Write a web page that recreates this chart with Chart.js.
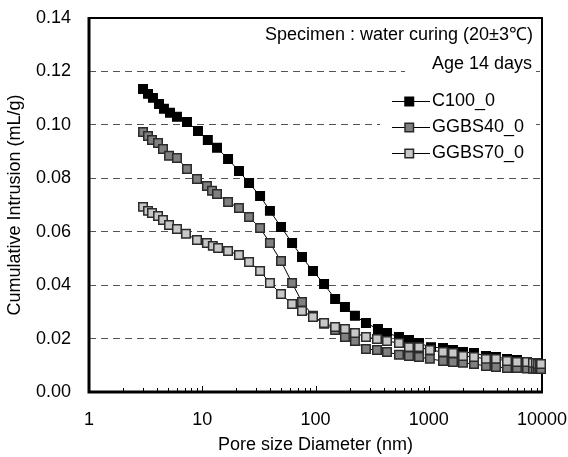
<!DOCTYPE html>
<html>
<head>
<meta charset="utf-8">
<script src="https://cdn.jsdelivr.net/npm/chart.js@4.4.1/dist/chart.umd.min.js"></script>
<style>
  html, body { margin: 0; padding: 0; background: #fff; }
  canvas { display: block; }
</style>
</head>
<body>
<canvas id="mipChart" width="568" height="457"></canvas>
<script>
// pore diameter (nm) / cumulative intrusion (mL/g)
const c100Diameter = [3.00, 3.32, 3.67, 4.15, 4.59, 5.19, 5.98, 7.33, 9.17, 11.2,
  13.5, 16.9, 21.1, 25.9, 32.4, 39.6, 49.6, 62.1, 76.0, 95.0,
  119, 149, 182, 223, 279, 356, 428, 546, 669, 820,
  1047, 1336, 1637, 2006, 2510, 3200, 3925, 4910, 6010, 7375,
  8320, 8850, 9230, 9600, 9800];
const c100Intrusion = [0.1134, 0.1116, 0.1101, 0.1078, 0.1060, 0.1045, 0.1030, 0.1011, 0.0977, 0.0943,
  0.0914, 0.0872, 0.0827, 0.0782, 0.0734, 0.0678, 0.0618, 0.0558, 0.0505, 0.0453,
  0.0404, 0.0348, 0.0318, 0.0285, 0.0258, 0.0236, 0.0221, 0.0206, 0.0195, 0.0183,
  0.0168, 0.0165, 0.0157, 0.0150, 0.0146, 0.0135, 0.0131, 0.0124, 0.0120, 0.0112,
  0.0105, 0.0101, 0.0101, 0.0097, 0.0097];

const ggbs40Diameter = [3.00, 3.32, 3.60, 4.07, 4.50, 5.09, 5.98, 7.33, 8.99, 11.0,
  12.2, 13.5, 16.9, 21.1, 25.9, 32.4, 39.6, 49.6, 62.1, 76.0,
  95.0, 119, 149, 182, 223, 279, 349, 428, 546, 669,
  820, 1023, 1336, 1637, 2006, 2510, 3200, 3925, 4910, 6010,
  7375, 8320, 8850, 9230, 9600, 9800];
const ggbs40Intrusion = [0.0973, 0.0958, 0.0943, 0.0932, 0.0910, 0.0884, 0.0876, 0.0835, 0.0797, 0.0771,
  0.0753, 0.0741, 0.0711, 0.0689, 0.0655, 0.0614, 0.0558, 0.0490, 0.0408, 0.0337,
  0.0285, 0.0255, 0.0232, 0.0206, 0.0191, 0.0161, 0.0157, 0.0150, 0.0139, 0.0135,
  0.0131, 0.0124, 0.0116, 0.0112, 0.0109, 0.0105, 0.0097, 0.0094, 0.0090, 0.0090,
  0.0088, 0.0087, 0.0087, 0.0086, 0.0086, 0.0086];

const ggbs70Diameter = [3.00, 3.32, 3.60, 4.07, 4.50, 5.09, 5.98, 7.18, 8.99, 11.0,
  12.4, 13.8, 16.9, 21.1, 25.9, 32.4, 39.6, 49.6, 62.1, 76.0,
  95.0, 119, 149, 182, 223, 279, 349, 428, 546, 669,
  820, 1023, 1336, 1637, 2006, 2510, 3200, 3925, 4910, 6010,
  7375, 8320, 8850, 9230, 9600, 9800];
const ggbs70Intrusion = [0.0693, 0.0678, 0.0670, 0.0659, 0.0644, 0.0625, 0.0610, 0.0592, 0.0569, 0.0558,
  0.0547, 0.0539, 0.0528, 0.0513, 0.0487, 0.0453, 0.0408, 0.0367, 0.0329, 0.0303,
  0.0281, 0.0258, 0.0243, 0.0236, 0.0221, 0.0206, 0.0198, 0.0191, 0.0183, 0.0168,
  0.0168, 0.0157, 0.0150, 0.0146, 0.0135, 0.0131, 0.0124, 0.0124, 0.0116, 0.0112,
  0.0112, 0.0109, 0.0109, 0.0105, 0.0105, 0.0105];

const seriesNames = ["C100_0", "GGBS40_0", "GGBS70_0"];
const xTickValues = [1, 10, 100, 1000, 10000];
const yTickValues = [0, 0.02, 0.04, 0.06, 0.08, 0.10, 0.12, 0.14];
const noteLines = ["Specimen : water curing (20±3℃)", "Age 14 days"];

const FONT = '"Liberation Sans", Arial, sans-serif';
const FONT_SIZE = 18;
const markerFill = ["#000000", "#808080", "#c8c8c8"];
const markerEdge = ["#000000", "#2a2a2a", "#2a2a2a"];

function toPoints(xs, ys) {
    return xs.map((x, i) => ({ x: x, y: ys[i] }));
}

function makeSet(idx, xs, ys) {
    return {
        label: seriesNames[idx],
        data: toPoints(xs, ys),
        borderColor: "#000",
        borderWidth: 1,
        pointStyle: "rect",
        pointRadius: 6,
        pointBorderWidth: 1.5,
        pointBackgroundColor: markerFill[idx],
        pointBorderColor: markerEdge[idx],
        tension: 0,
        clip: false,
        order: 3 - idx   // lighter series drawn on top
    };
}

// frame, inward minor ticks on the log axis
const framePlugin = {
    id: "frame",
    beforeDatasetsDraw(chart) {
        const { ctx, chartArea: a, scales: { x } } = chart;
        ctx.save();
        ctx.strokeStyle = "#000";
        ctx.lineWidth = 1;
        xTickValues.slice(0, -1).forEach((d) => {
            for (let m = 2; m <= 10; m++) {
                const px = Math.round(x.getPixelForValue(m * d)) + 0.5;
                const len = m === 10 ? 6 : 4;
                ctx.beginPath();
                ctx.moveTo(px, a.bottom);
                ctx.lineTo(px, a.bottom - len);
                ctx.stroke();
            }
        });
        ctx.lineWidth = 2;
        ctx.beginPath();
        ctx.moveTo(a.left, a.top);
        ctx.lineTo(a.right, a.top);
        ctx.lineTo(a.right, a.bottom);
        ctx.stroke();
        ctx.lineWidth = 3;
        ctx.beginPath();
        ctx.moveTo(a.left, a.top - 1);
        ctx.lineTo(a.left, a.bottom);
        ctx.lineTo(a.right + 1, a.bottom);
        ctx.stroke();
        ctx.restore();
    }
};

// notes and legend inside the plot, on white boxes
const notesPlugin = {
    id: "notes",
    afterDraw(chart) {
        const { ctx, chartArea: a } = chart;
        ctx.save();
        ctx.font = FONT_SIZE + "px " + FONT;
        ctx.fillStyle = "#fff";
        ctx.fillRect(a.right - 137, a.top + 36, 131, 24);
        ctx.fillRect(a.right - 162, a.top + 68, 156, 80);

        ctx.fillStyle = "#000";
        ctx.textAlign = "right";
        ctx.textBaseline = "middle";
        ctx.fillText(noteLines[0], a.right - 9, a.top + 17);
        ctx.fillText(noteLines[1], a.right - 10, a.top + 46);

        ctx.textAlign = "left";
        seriesNames.forEach((name, i) => {
            const y = Math.round(a.top + 83 + i * 26) + 0.5;
            ctx.strokeStyle = "#000";
            ctx.lineWidth = 1;
            ctx.beginPath();
            ctx.moveTo(a.right - 150, y);
            ctx.lineTo(a.right - 112, y);
            ctx.stroke();
            ctx.fillStyle = markerFill[i];
            ctx.strokeStyle = markerEdge[i];
            ctx.lineWidth = 1.5;
            ctx.fillRect(a.right - 137, y - 4.25, 8.5, 8.5);
            ctx.strokeRect(a.right - 137, y - 4.25, 8.5, 8.5);
            ctx.fillStyle = "#000";
            ctx.fillText(name, a.right - 110, y);
        });
        ctx.restore();
    }
};

const ctx = document.getElementById("mipChart").getContext("2d");
new Chart(ctx, {
    type: "line",
    data: {
        datasets: [
            makeSet(0, c100Diameter, c100Intrusion),
            makeSet(1, ggbs40Diameter, ggbs40Intrusion),
            makeSet(2, ggbs70Diameter, ggbs70Intrusion)
        ]
    },
    options: {
        responsive: false,
        devicePixelRatio: 1,
        animation: false,
        layout: { padding: { left: 0, top: 18, right: 26, bottom: 0 } },
        plugins: {
            legend: { display: false },
            tooltip: { enabled: false }
        },
        scales: {
            x: {
                type: "logarithmic",
                min: 1,
                max: 10000,
                afterBuildTicks: (scale) => {
                    scale.ticks = xTickValues.map((v) => ({ value: v, major: true }));
                },
                afterFit: (scale) => {
                    scale.height = 65;
                    scale.paddingLeft = 0;
                    scale.paddingRight = 0;
                },
                grid: { display: false, drawTicks: false },
                border: { display: false },
                ticks: {
                    color: "#000",
                    font: { family: FONT, size: FONT_SIZE },
                    padding: 17,
                    maxRotation: 0,
                    autoSkip: false,
                    callback: (v) => String(v)
                },
                title: {
                    display: true,
                    text: "Pore size Diameter (nm)",
                    color: "#000",
                    font: { family: FONT, size: FONT_SIZE },
                    padding: { top: 4, bottom: 1 }
                }
            },
            y: {
                min: 0,
                max: 0.14,
                afterBuildTicks: (scale) => {
                    scale.ticks = yTickValues.map((v) => ({ value: v }));
                },
                afterFit: (scale) => {
                    scale.width = 89;
                    scale.paddingTop = 0;
                    scale.paddingBottom = 0;
                },
                grid: {
                    drawTicks: false,
                    lineWidth: 1,
                    color: (c) => (c.tick && c.tick.value > 0.001 && c.tick.value < 0.139) ? "#555" : "rgba(0,0,0,0)"
                },
                border: { display: false, dash: [7, 5] },
                ticks: {
                    color: "#000",
                    font: { family: FONT, size: FONT_SIZE },
                    padding: 18,
                    callback: (v) => Number(v).toFixed(2)
                },
                title: {
                    display: true,
                    text: "Cumulative Intrusion (mL/g)",
                    color: "#000",
                    font: { family: FONT, size: FONT_SIZE },
                    padding: { top: 4, bottom: 4 }
                }
            }
        }
    },
    plugins: [framePlugin, notesPlugin]
});
</script>
</body>
</html>
